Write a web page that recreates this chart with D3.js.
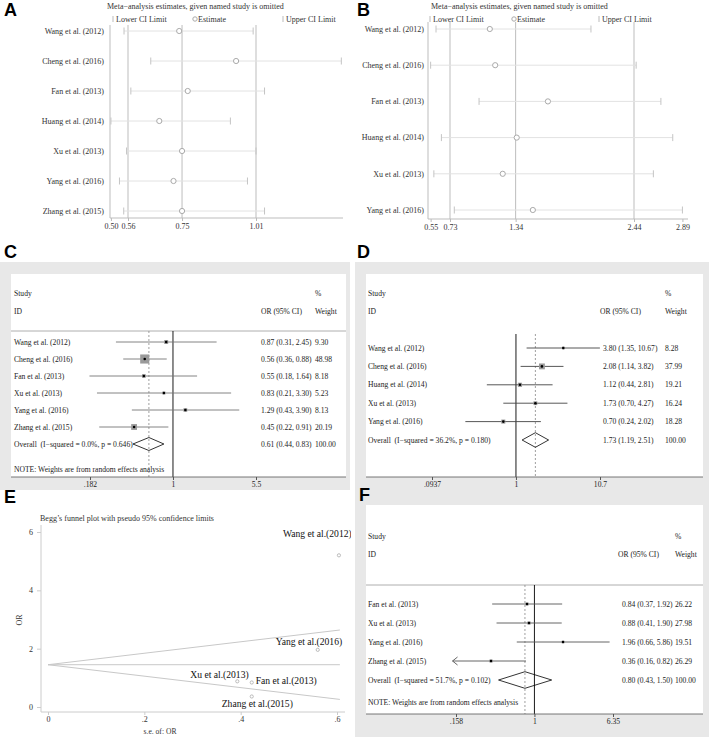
<!DOCTYPE html>
<html>
<head>
<meta charset="utf-8">
<script src="https://cdn.jsdelivr.net/npm/d3@7"></script>
<style>
  body { margin: 0; background: #fff; }
  text { white-space: pre; }
</style>
</head>
<body>
<script>

// ---- data: panel A (sensitivity, study omitted) ----
const aStudies = ["Wang et al. (2012)", "Cheng et al. (2016)", "Fan et al. (2013)", "Huang et al. (2014)", "Xu et al. (2013)", "Yang et al. (2016)", "Zhang et al. (2015)"];
const aEst = [0.74, 0.94, 0.77, 0.67, 0.75, 0.72, 0.75];
const aLow = [0.546, 0.64, 0.57, 0.50, 0.555, 0.53, 0.545];
const aHigh = [1.00, 1.31, 1.04, 0.92, 1.01, 0.98, 1.04];
const aTicks = [0.50, 0.56, 0.75, 1.01];
const aGrid = [0.56, 0.75, 1.01];

// ---- panel B ----
const bStudies = ["Wang et al. (2012)", "Cheng et al. (2016)", "Fan et al. (2013)", "Huang et al. (2014)", "Xu et al. (2013)", "Yang et al. (2016)"];
const bEst = [1.10, 1.15, 1.64, 1.35, 1.22, 1.50];
const bLow = [0.60, 0.55, 1.00, 0.65, 0.58, 0.77];
const bHigh = [2.04, 2.46, 2.69, 2.80, 2.62, 2.89];
const bTicks = [0.55, 0.73, 1.34, 2.44, 2.89];
const bGrid = [0.73, 1.34, 2.44];

// ---- panel C (forest) ----
const cStudies = ["Wang et al. (2012)", "Cheng et al. (2016)", "Fan et al. (2013)", "Xu et al. (2013)", "Yang et al. (2016)", "Zhang et al. (2015)"];
const cOR = [0.87, 0.56, 0.55, 0.83, 1.29, 0.45];
const cLow = [0.31, 0.36, 0.18, 0.21, 0.43, 0.22];
const cHigh = [2.45, 0.88, 1.64, 3.30, 3.90, 0.91];
const cWeight = [9.30, 48.98, 8.18, 5.23, 8.13, 20.19];
const cOverall = [0.61, 0.44, 0.83];
const cHet = "Overall  (I\u2212squared = 0.0%, p = 0.646)";
const cTicks = [0.182, 1, 5.5];
const cTickLabels = [".182", "1", "5.5"];

// ---- panel D ----
const dStudies = ["Wang et al. (2012)", "Cheng et al. (2016)", "Huang et al. (2014)", "Xu et al. (2013)", "Yang et al. (2016)"];
const dOR = [3.80, 2.08, 1.12, 1.73, 0.70];
const dLow = [1.35, 1.14, 0.44, 0.70, 0.24];
const dHigh = [10.67, 3.82, 2.81, 4.27, 2.02];
const dWeight = [8.28, 37.99, 19.21, 16.24, 18.28];
const dOverall = [1.73, 1.19, 2.51];
const dHet = "Overall  (I\u2212squared = 36.2%, p = 0.180)";
const dTicks = [0.0937, 1, 10.7];
const dTickLabels = [".0937", "1", "10.7"];

// ---- panel E (Begg's funnel) ----
const eStudies = ["Wang et al.(2012)", "Yang et al.(2016)", "Xu et al.(2013)", "Fan et al.(2013)", "Zhang et al.(2015)"];
const eSE = [0.604, 0.56, 0.393, 0.423, 0.423];
const eOR = [5.2, 1.96, 0.88, 0.84, 0.36];
const ePooled = 1.45;
const eFunnelSE = [0, 0.606];
const eFunnelUpper = [1.45, 2.64];
const eFunnelLower = [1.45, 0.26];
const eYTicks = [0, 2, 4, 6];
const eXTicks = [0, 0.2, 0.4, 0.6];

// ---- panel F ----
const fStudies = ["Fan et al. (2013)", "Xu et al. (2013)", "Yang et al. (2016)", "Zhang et al. (2015)"];
const fOR = [0.84, 0.88, 1.96, 0.36];
const fLow = [0.37, 0.41, 0.66, 0.16];
const fHigh = [1.92, 1.90, 5.86, 0.82];
const fWeight = [26.22, 27.98, 19.51, 26.29];
const fOverall = [0.80, 0.43, 1.50];
const fHet = "Overall  (I\u2212squared = 51.7%, p = 0.102)";
const fTicks = [0.158, 1, 6.35];
const fTickLabels = [".158", "1", "6.35"];

const serif = "'Liberation Serif', 'Times New Roman', serif";
const f2 = d3.format(".2f");

const svg = d3.select("body").append("svg")
  .attr("width", 709).attr("height", 737)
  .style("font-family", serif);

// sensitivity plots (A, B)
function sens(o) {
  let g = svg.append("g");
  let x = d3.scaleLinear().domain(o.domain).range(o.range);
  let y = d3.scalePoint().domain(o.names).range(o.rows);
  let fs = "8px";

  g.append("text").attr("x", o.titleX).attr("y", 9).attr("font-size", fs).attr("fill", "#333")
    .text("Meta\u2212analysis estimates, given named study is omitted");

  // legend
  let lg = o.legend;
  g.append("line").attr("x1", lg[0]).attr("x2", lg[0]).attr("y1", 16).attr("y2", 22).attr("stroke", "#bbb");
  g.append("text").attr("x", lg[0] + 3).attr("y", 22).attr("font-size", fs).attr("fill", "#333").text("Lower CI Limit");
  g.append("circle").attr("cx", lg[1]).attr("cy", 19).attr("r", 2.2).attr("fill", "none").attr("stroke", "#aaa");
  g.append("text").attr("x", lg[1] + 3).attr("y", 22).attr("font-size", fs).attr("fill", "#333").text("Estimate");
  g.append("line").attr("x1", lg[2]).attr("x2", lg[2]).attr("y1", 16).attr("y2", 22).attr("stroke", "#bbb");
  g.append("text").attr("x", lg[2] + 3).attr("y", 22).attr("font-size", fs).attr("fill", "#333").text("Upper CI Limit");

  // grid and axes
  g.selectAll(".grid").data(o.grid).join("line")
    .attr("x1", d => x(d)).attr("x2", d => x(d))
    .attr("y1", o.gridTop).attr("y2", o.axisY)
    .attr("stroke", "#bdbdbd");
  g.append("line").attr("x1", o.axisX[0]).attr("x2", o.axisX[0])
    .attr("y1", o.gridTop).attr("y2", o.axisY).attr("stroke", "#bdbdbd");
  g.append("line").attr("x1", o.axisX[0]).attr("x2", o.axisX[1])
    .attr("y1", o.axisY).attr("y2", o.axisY).attr("stroke", "#bdbdbd");

  let ax = g.append("g").attr("transform", `translate(0,${o.axisY})`)
    .call(d3.axisBottom(x).tickValues(o.ticks).tickFormat(f2).tickSize(3).tickPadding(2));
  ax.select(".domain").remove();
  ax.selectAll("line").attr("stroke", "#bbb");
  ax.selectAll("text").attr("font-size", fs).attr("font-family", serif).attr("fill", "#333");

  // rows
  let rows = g.selectAll(".row").data(o.names).join("g");
  rows.append("line")
    .attr("x1", (d, i) => x(o.low[i])).attr("x2", (d, i) => x(o.high[i]))
    .attr("y1", d => y(d)).attr("y2", d => y(d))
    .attr("stroke", "#e2e2e2");
  rows.append("line")
    .attr("x1", (d, i) => x(o.low[i])).attr("x2", (d, i) => x(o.low[i]))
    .attr("y1", d => y(d) - 3.5).attr("y2", d => y(d) + 3.5)
    .attr("stroke", "#c4c4c4");
  rows.append("line")
    .attr("x1", (d, i) => x(o.high[i])).attr("x2", (d, i) => x(o.high[i]))
    .attr("y1", d => y(d) - 3.5).attr("y2", d => y(d) + 3.5)
    .attr("stroke", "#c4c4c4");
  rows.append("circle")
    .attr("cx", (d, i) => x(o.est[i])).attr("cy", d => y(d)).attr("r", 2.6)
    .attr("fill", "#fff").attr("stroke", "#aaa");
  rows.append("text")
    .attr("x", o.labelX).attr("y", d => y(d)).attr("dy", "0.35em")
    .attr("text-anchor", "end").attr("font-size", fs).attr("fill", "#333")
    .text(d => d);
}

// forest plots (C, D, F)
function forest(o) {
  let g = svg.append("g");
  let fs = "7.6px";
  g.append("rect").attr("x", o.gray[0]).attr("y", o.gray[1]).attr("width", o.gray[2]).attr("height", o.gray[3]).attr("fill", "#e8e8e8");
  g.append("rect").attr("x", o.white[0]).attr("y", o.white[1]).attr("width", o.white[2]).attr("height", o.white[3]).attr("fill", "#fff");
  let axisY = o.white[1] + o.white[3];

  let x = d3.scaleLog().domain([o.ticks[0], o.ticks[2]]).range([o.tickX[0], o.tickX[1]]);
  let keys = [...o.names, "Overall"];
  let y = d3.scalePoint().domain(keys).range(o.rows);

  let txt = (tx, ty, s, anchor) => g.append("text").attr("x", tx).attr("y", ty).attr("dy", "0.35em")
    .attr("font-size", fs).attr("fill", "#222").attr("text-anchor", anchor || "start").text(s);

  txt(o.labelX, o.head[0], "Study");
  txt(o.labelX, o.head[1], "ID");
  txt(o.orHeadX, o.head[1], "OR (95% CI)");
  txt(o.wX, o.head[0], "%");
  txt(o.wX, o.head[1], "Weight");

  if (o.sepY) {
    g.append("line").attr("x1", o.white[0]).attr("x2", o.white[0] + o.white[2])
      .attr("y1", o.sepY).attr("y2", o.sepY).attr("stroke", "#999").attr("stroke-width", 0.8);
  }

  // reference lines
  g.append("line").attr("x1", x(1)).attr("x2", x(1)).attr("y1", o.vTop).attr("y2", axisY)
    .attr("stroke", "#000").attr("stroke-width", 0.9);
  g.append("line").attr("x1", x(o.overall[0])).attr("x2", x(o.overall[0])).attr("y1", o.vTop).attr("y2", axisY)
    .attr("stroke", "#888").attr("stroke-width", 0.8).attr("stroke-dasharray", "2,2");

  // study rows
  o.names.forEach((name, i) => {
    let yy = y(name);
    let clipped = o.clipLo && o.low[i] < o.clipLo;
    let xl = clipped ? x(o.low[i]) - 4 : x(o.low[i]);
    g.append("line").attr("x1", xl).attr("x2", x(o.high[i])).attr("y1", yy).attr("y2", yy)
      .attr("stroke", o.lineColor).attr("stroke-width", 0.9);
    if (clipped) {
      g.append("path").attr("d", `M${xl + 5},${yy - 4}L${xl},${yy}L${xl + 5},${yy + 4}`)
        .attr("fill", "none").attr("stroke", o.lineColor).attr("stroke-width", 0.9);
    }
    let s = o.boxK * Math.sqrt(o.weight[i]);
    g.append("rect").attr("x", x(o.or[i]) - s / 2).attr("y", yy - s / 2).attr("width", s).attr("height", s)
      .attr("fill", "#9a9a9a");
    g.append("circle").attr("cx", x(o.or[i])).attr("cy", yy).attr("r", 1.3).attr("fill", "#000");
    txt(o.labelX, yy, name);
    txt(o.orX, yy, `${f2(o.or[i])} (${f2(o.low[i])}, ${f2(o.high[i])})`);
    txt(o.wX, yy, f2(o.weight[i]));
  });

  // overall diamond
  let oy = y("Overall");
  let ov = o.overall;
  g.append("path")
    .attr("d", `M${x(ov[1])},${oy}L${x(ov[0])},${oy - o.diaH}L${x(ov[2])},${oy}L${x(ov[0])},${oy + o.diaH}Z`)
    .attr("fill", "none").attr("stroke", "#000").attr("stroke-width", 0.8);
  txt(o.labelX, oy, o.het);
  txt(o.orX, oy, `${f2(ov[0])} (${f2(ov[1])}, ${f2(ov[2])})`);
  txt(o.wX, oy, "100.00");

  if (o.noteY) txt(o.labelX, o.noteY, "NOTE: Weights are from random effects analysis");

  // axis
  g.append("line").attr("x1", o.white[0]).attr("x2", o.white[0] + o.white[2])
    .attr("y1", axisY).attr("y2", axisY).attr("stroke", "#555").attr("stroke-width", 0.8);
  let ax = g.append("g").attr("transform", `translate(0,${axisY})`)
    .call(d3.axisBottom(x).tickValues(o.ticks).tickFormat((d, i) => o.tickLabels[i]).tickSize(3).tickPadding(2));
  ax.select(".domain").remove();
  ax.selectAll("line").attr("stroke", "#555");
  ax.selectAll("text").attr("font-size", fs).attr("font-family", serif).attr("fill", "#222");
}

sens({
  names: aStudies, est: aEst, low: aLow, high: aHigh, ticks: aTicks, grid: aGrid,
  domain: [0.56, 1.01], range: [128, 256], rows: [31, 211],
  axisY: 218, axisX: [110, 343], gridTop: 25, labelX: 104,
  titleX: 107, legend: [113, 195, 283]
});

sens({
  names: bStudies, est: bEst, low: bLow, high: bHigh, ticks: bTicks, grid: bGrid,
  domain: [0.73, 2.44], range: [450, 634], rows: [29, 210],
  axisY: 219, axisX: [428, 688], gridTop: 22, labelX: 424,
  titleX: 431, legend: [430, 514, 599]
});

forest({
  names: cStudies, or: cOR, low: cLow, high: cHigh, weight: cWeight, overall: cOverall, het: cHet,
  ticks: cTicks, tickLabels: cTickLabels, tickX: [90, 256],
  gray: [0, 262, 350, 228], white: [11, 274, 335, 203],
  head: [293, 311], sepY: 331, vTop: 331, rows: [342, 444],
  labelX: 14, orHeadX: 261, orX: 261, wX: 315, noteY: 469,
  boxK: 1.3, diaH: 6.5, lineColor: "#777"
});

forest({
  names: dStudies, or: dOR, low: dLow, high: dHigh, weight: dWeight, overall: dOverall, het: dHet,
  ticks: dTicks, tickLabels: dTickLabels, tickX: [432, 600],
  gray: [355, 262, 354, 230], white: [366, 274, 337, 203],
  head: [293, 311], sepY: null, vTop: 334, rows: [348, 440],
  labelX: 368, orHeadX: 600, orX: 603, wX: 665, noteY: null,
  boxK: 0.95, diaH: 7.3, lineColor: "#444"
});

// ---- panel E ----
{
  svg.append("clipPath").attr("id", "clipE")
    .append("rect").attr("x", 0).attr("y", 490).attr("width", 351).attr("height", 247);
  let g = svg.append("g").attr("clip-path", "url(#clipE)");
  let x = d3.scaleLinear().domain([0, 0.6]).range([48, 337]);
  let y = d3.scaleLinear().domain([0, 6]).range([707, 532]);
  let fs = "8px";

  g.append("text").attr("x", 40).attr("y", 521).attr("font-size", fs).attr("fill", "#333")
    .text("Begg\u2019s funnel plot with pseudo 95% confidence limits");

  g.append("line").attr("x1", 41).attr("x2", 41).attr("y1", 525).attr("y2", 712).attr("stroke", "#ccc");
  g.append("line").attr("x1", 41).attr("x2", 345).attr("y1", 712).attr("y2", 712).attr("stroke", "#ccc");

  let ay = g.append("g").attr("transform", "translate(41,0)")
    .call(d3.axisLeft(y).tickValues(eYTicks).tickFormat(d3.format("d")).tickSize(4).tickPadding(4));
  ay.select(".domain").remove();
  ay.selectAll("line").attr("stroke", "#ccc");
  ay.selectAll("text").attr("font-size", fs).attr("font-family", serif).attr("fill", "#333");

  let axx = g.append("g").attr("transform", "translate(0,712)")
    .call(d3.axisBottom(x).tickValues(eXTicks).tickFormat(d => d === 0 ? "0" : String(d).replace("0.", ".")).tickSize(3).tickPadding(1));
  axx.select(".domain").remove();
  axx.selectAll("line").attr("stroke", "#ccc");
  axx.selectAll("text").attr("font-size", fs).attr("font-family", serif).attr("fill", "#333");

  g.append("text").attr("x", 160).attr("y", 734).attr("text-anchor", "middle").attr("font-size", "7.6px").attr("fill", "#333").text("s.e. of: OR");
  g.append("text").attr("transform", "translate(22,620) rotate(-90)").attr("text-anchor", "middle").attr("font-size", fs).attr("fill", "#333").text("OR");

  // pseudo confidence limits and pooled line
  let line = d3.line().x(d => x(d[0])).y(d => y(d[1]));
  g.append("path").attr("d", line(eFunnelSE.map((s, i) => [s, eFunnelUpper[i]]))).attr("stroke", "#c8c8c8").attr("fill", "none");
  g.append("path").attr("d", line(eFunnelSE.map((s, i) => [s, eFunnelLower[i]]))).attr("stroke", "#c8c8c8").attr("fill", "none");
  g.append("path").attr("d", line(eFunnelSE.map(s => [s, ePooled]))).attr("stroke", "#c8c8c8").attr("fill", "none");

  // label offsets (px) relative to each point
  let offs = [[-56, -22], [-42, -8], [-47, -7], [4, -2], [-30, 7]];
  g.selectAll(".pt").data(eStudies).join("circle")
    .attr("cx", (d, i) => x(eSE[i])).attr("cy", (d, i) => y(eOR[i])).attr("r", 1.6)
    .attr("fill", "none").attr("stroke", "#bbb");
  g.selectAll(".lab").data(eStudies).join("text")
    .attr("x", (d, i) => x(eSE[i]) + offs[i][0]).attr("y", (d, i) => y(eOR[i]) + offs[i][1])
    .attr("dy", "0.35em").attr("font-size", "9.6px").attr("fill", "#111")
    .text(d => d);
}

forest({
  names: fStudies, or: fOR, low: fLow, high: fHigh, weight: fWeight, overall: fOverall, het: fHet,
  ticks: fTicks, tickLabels: fTickLabels, tickX: [456, 613],
  gray: [355, 492, 354, 245], white: [366, 505, 337, 209],
  head: [536, 554], sepY: 585, vTop: 585, rows: [604, 680],
  labelX: 368, orHeadX: 618, orX: 622, wX: 675, noteY: 702,
  boxK: 0.6, diaH: 8.3, lineColor: "#555", clipLo: 0.165
});

// panel letters
const letters = [["A", 4, 16], ["B", 357, 16], ["C", 4, 258], ["D", 357, 258], ["E", 4, 503], ["F", 359, 501]];
svg.selectAll(".letter").data(letters).join("text")
  .attr("x", d => d[1]).attr("y", d => d[2])
  .attr("font-family", "'Liberation Sans', Arial, sans-serif")
  .attr("font-weight", "bold").attr("font-size", "18px").attr("fill", "#000")
  .text(d => d[0]);

</script>
</body>
</html>
